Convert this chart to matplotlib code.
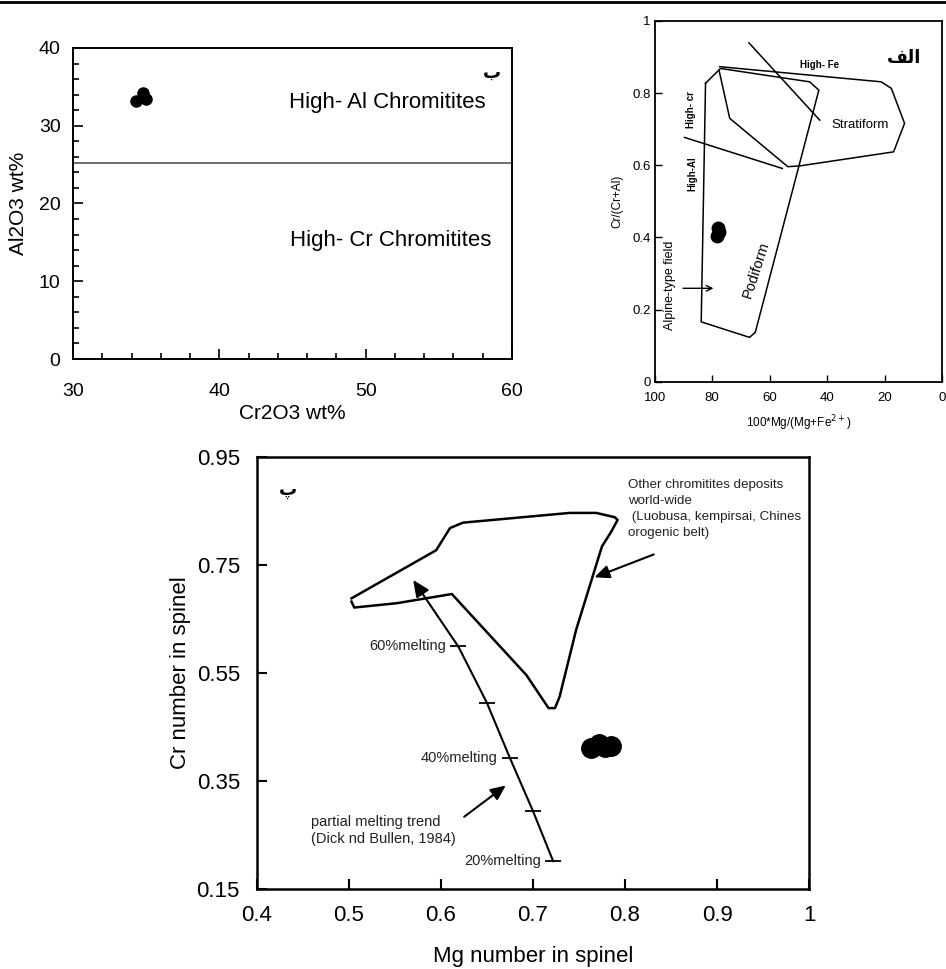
import matplotlib
matplotlib.use("Agg")
import matplotlib.pyplot as plt
from matplotlib.lines import Line2D

plt.rcParams['font.family'] = ['Liberation Sans', 'DejaVu Sans']

# --- panel ب : Al2O3 vs Cr2O3 ---
b_cr2o3 = [34.3, 34.75, 35.0]
b_al2o3 = [33.2, 34.2, 33.5]
b_divide = 25.2

# --- panel الف : Cr/(Cr+Al) vs 100*Mg/(Mg+Fe2+) ---
podi_x = [82.3, 77.1, 46.1, 42.9, 65.0, 67.0, 83.8, 82.3]
podi_y = [0.827, 0.868, 0.831, 0.808, 0.137, 0.123, 0.166, 0.827]
strat_x = [77.4, 21.2, 17.7, 13.1, 16.9, 49.6, 53.7, 73.9, 77.6]
strat_y = [0.873, 0.831, 0.813, 0.716, 0.637, 0.598, 0.596, 0.730, 0.863]
fe_line_x = [67.2, 42.6]
fe_line_y = [0.939, 0.725]
al_line_x = [89.6, 55.6]
al_line_y = [0.677, 0.591]
a_mg = [78.2, 77.6, 78.0]
a_cr = [0.405, 0.415, 0.425]

# --- panel پ : Cr number vs Mg number ---
field_x = [0.503, 0.506, 0.552, 0.612, 0.693, 0.717, 0.724, 0.729, 0.747,
           0.775, 0.785, 0.792, 0.789, 0.769, 0.740, 0.624, 0.610, 0.595, 0.503]
field_y = [0.682, 0.671, 0.679, 0.696, 0.546, 0.485, 0.485, 0.506, 0.630,
           0.784, 0.811, 0.833, 0.838, 0.846, 0.846, 0.828, 0.818, 0.777, 0.688]
trend_x = [0.722, 0.700, 0.675, 0.650, 0.619, 0.570]
trend_y = [0.202, 0.295, 0.393, 0.495, 0.599, 0.722]
melt_labels = ['20%melting', '40%melting', '60%melting']
melt_idx = [0, 2, 4]
p_mg = [0.763, 0.772, 0.778, 0.785]
p_cr = [0.412, 0.418, 0.413, 0.415]

fig = plt.figure(figsize=(9.46, 9.69), dpi=100)
fig.add_artist(Line2D([0, 1], [0.998, 0.998], color='black', lw=2))

# ---------------- panel ب ----------------
ax1 = fig.add_axes([0.0772, 0.6295, 0.464, 0.321])
ax1.plot(b_cr2o3, b_al2o3, 'o', color='black', ms=8)
ax1.axhline(b_divide, color='#555555', lw=1.2)
ax1.set_xlim(30, 60)
ax1.set_ylim(0, 40)
ax1.set_xticks(range(30, 61, 10))
ax1.set_yticks(range(0, 41, 10))
ax1.set_xticks(range(30, 61, 2), minor=True)
ax1.set_yticks(range(0, 41, 2), minor=True)
ax1.tick_params(which='both', direction='in', labelsize=14, width=1.2)
ax1.tick_params(which='major', length=7)
ax1.tick_params(which='minor', length=4)
ax1.tick_params(axis='x', which='major', pad=17)
ax1.tick_params(axis='y', which='major', pad=9)
for s in ax1.spines.values():
    s.set_linewidth(1.4)
ax1.set_xlabel('Cr2O3 wt%', fontsize=15, labelpad=3)
ax1.set_ylabel('Al2O3 wt%', fontsize=15, labelpad=8)
ax1.text(51.5, 33.0, 'High- Al Chromitites', fontsize=16, ha='center', va='center')
ax1.text(51.7, 15.3, 'High- Cr Chromitites', fontsize=16, ha='center', va='center')
ax1.text(0.955, 0.92, 'ب', transform=ax1.transAxes, fontsize=13,
         fontweight='bold', family='DejaVu Sans', ha='center', va='center')

# ---------------- panel الف ----------------
ax2 = fig.add_axes([0.692, 0.606, 0.304, 0.3725])
ax2.plot(podi_x, podi_y, color='black', lw=1.1)
ax2.plot(strat_x, strat_y, color='black', lw=1.1)
ax2.plot(fe_line_x, fe_line_y, color='black', lw=1.1)
ax2.plot(al_line_x, al_line_y, color='black', lw=1.1)
ax2.plot(a_mg, a_cr, 'o', color='black', ms=9)
ax2.annotate('', xy=(78.6, 0.259), xytext=(91.1, 0.259),
             arrowprops=dict(arrowstyle='->', color='black', lw=1))
ax2.set_xlim(100, 0)
ax2.set_ylim(0, 1)
ax2.set_xticks([100, 80, 60, 40, 20, 0])
ax2.set_xticklabels(['100', '80', '60', '40', '20', '0'])
ax2.set_yticks([0, 0.2, 0.4, 0.6, 0.8, 1])
ax2.set_yticklabels(['0', '0.2', '0.4', '0.6', '0.8', '1'])
ax2.tick_params(direction='in', labelsize=9.5, length=5, width=1)
ax2.tick_params(axis='x', pad=7)
ax2.tick_params(axis='y', pad=3)
for s in ax2.spines.values():
    s.set_linewidth(1.3)
ax2.set_xlabel('100*Mg/(Mg+Fe$^{2+}$)', fontsize=8.5, labelpad=7)
ax2.set_ylabel('Cr/(Cr+Al)', fontsize=8.5, labelpad=6)
ax2.text(42.6, 0.877, 'High- Fe', fontsize=7, fontweight='bold', ha='center', va='center')
ax2.text(87.2, 0.753, 'High- cr', fontsize=7, fontweight='bold', rotation=90,
         ha='center', va='center')
ax2.text(86.9, 0.577, 'High-Al', fontsize=7, fontweight='bold', rotation=90,
         ha='center', va='center')
ax2.text(28.7, 0.711, 'Stratiform', fontsize=9.5, ha='center', va='center')
ax2.text(64.6, 0.309, 'Podiform', fontsize=10.5, rotation=72, ha='center', va='center')
ax2.text(94.8, 0.268, 'Alpine-type field', fontsize=9, rotation=90,
         ha='center', va='center')
ax2.text(13.1, 0.897, '\ufed2\ufedf\u0627', fontsize=13, fontweight='bold',
         family='DejaVu Sans', ha='center', va='center')

# ---------------- panel پ ----------------
ax3 = fig.add_axes([0.2713, 0.0823, 0.584, 0.4464])
ax3.plot(field_x, field_y, color='black', lw=1.8)
ax3.plot(trend_x[:-1], trend_y[:-1], color='black', lw=1.5)
ax3.annotate('', xy=(trend_x[-1], trend_y[-1]), xytext=(trend_x[-2], trend_y[-2]),
             arrowprops=dict(arrowstyle='-|>,head_length=1.0,head_width=0.45',
                             color='black', lw=1.5, shrinkA=0, shrinkB=0))
ax3.plot(trend_x[:-1], trend_y[:-1], '_', color='black', ms=11, mew=1.3)
for lab, i in zip(melt_labels, melt_idx):
    ax3.text(trend_x[i] - 0.013, trend_y[i], lab, fontsize=10.5,
             ha='right', va='center', color='#222222')
ax3.plot(p_mg, p_cr, 'o', color='black', ms=14)
ax3.text(0.459, 0.258, 'partial melting trend\n(Dick nd Bullen, 1984)',
         fontsize=10.5, ha='left', va='center', color='#222222', linespacing=1.25)
ax3.annotate('', xy=(0.673, 0.345), xytext=(0.623, 0.281),
             arrowprops=dict(arrowstyle='-|>,head_length=0.9,head_width=0.4',
                             color='black', lw=1.5))
ax3.text(0.803, 0.909, 'Other chromitites deposits\nworld-wide\n'
         ' (Luobusa, kempirsai, Chines\norogenic belt)',
         fontsize=9.6, ha='left', va='top', color='#222222', linespacing=1.45)
ax3.annotate('', xy=(0.764, 0.725), xytext=(0.834, 0.771),
             arrowprops=dict(arrowstyle='-|>,head_length=0.9,head_width=0.4',
                             color='black', lw=1.5))
ax3.text(0.434, 0.888, 'پ', fontsize=13, fontweight='bold',
         family='DejaVu Sans', ha='center', va='center')
ax3.set_xlim(0.4, 1.0)
ax3.set_ylim(0.15, 0.95)
ax3.set_xticks([0.4, 0.5, 0.6, 0.7, 0.8, 0.9, 1.0])
ax3.set_xticklabels(['0.4', '0.5', '0.6', '0.7', '0.8', '0.9', '1'])
ax3.set_yticks([0.15, 0.35, 0.55, 0.75, 0.95])
ax3.set_yticklabels(['0.15', '0.35', '0.55', '0.75', '0.95'])
ax3.tick_params(direction='in', labelsize=16, length=7, width=1.5)
ax3.tick_params(axis='x', pad=11)
ax3.tick_params(axis='y', pad=12)
for s in ax3.spines.values():
    s.set_linewidth(1.8)
ax3.set_xlabel('Mg number in spinel', fontsize=16, labelpad=15)
ax3.set_ylabel('Cr number in spinel', fontsize=16, labelpad=4)

fig.savefig('out.png', dpi=100)
